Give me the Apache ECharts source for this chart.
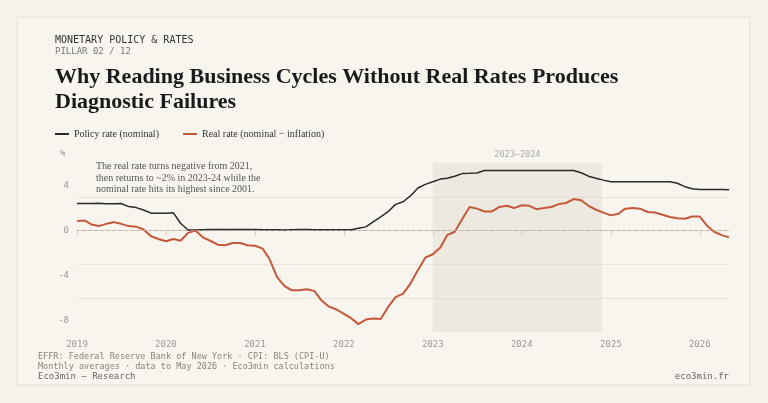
<!DOCTYPE html>
<html><head><meta charset="utf-8">
<script src="https://cdn.jsdelivr.net/npm/echarts@6/dist/echarts.min.js"></script>
<style>html,body{margin:0;background:#f6f3ed}#c{width:768px;height:403px}</style>
</head><body><div id="c"></div>
<script>
// monthly, Jan 2019 .. May 2026
const policyRate = [
  2.40,2.40,2.41,2.42,2.39,2.38,2.40,2.13,2.04,1.83,1.55,1.55,
  1.55,1.58,0.65,0.05,0.05,0.08,0.09,0.10,0.09,0.09,0.09,0.09,
  0.09,0.08,0.07,0.07,0.06,0.08,0.10,0.09,0.08,0.08,0.08,0.08,
  0.08,0.08,0.20,0.33,0.77,1.21,1.68,2.33,2.56,3.08,3.78,4.10,
  4.33,4.57,4.65,4.83,5.06,5.08,5.12,5.33,5.33,5.33,5.33,5.33,
  5.33,5.33,5.33,5.33,5.33,5.33,5.33,5.33,5.13,4.83,4.64,4.48,
  4.33,4.33,4.33,4.33,4.33,4.33,4.33,4.33,4.33,4.20,3.90,3.72,
  3.64,3.64,3.64,3.64,3.63
];
const realRate = [
  0.85,0.90,0.55,0.40,0.60,0.75,0.60,0.40,0.35,0.10,-0.50,-0.75,
  -0.95,-0.75,-0.90,-0.20,0.00,-0.60,-0.90,-1.25,-1.30,-1.10,-1.10,-1.30,
  -1.35,-1.60,-2.50,-4.10,-4.90,-5.30,-5.30,-5.20,-5.35,-6.20,-6.75,-7.00,
  -7.40,-7.80,-8.30,-7.90,-7.80,-7.85,-6.80,-5.90,-5.60,-4.70,-3.50,-2.40,
  -2.10,-1.50,-0.40,-0.10,1.00,2.10,1.95,1.70,1.70,2.10,2.20,2.00,
  2.25,2.20,1.90,2.00,2.10,2.35,2.45,2.80,2.70,2.20,1.85,1.60,
  1.35,1.50,1.95,2.00,1.95,1.65,1.60,1.40,1.20,1.10,1.05,1.25,
  1.25,0.40,-0.10,-0.40,-0.60
];
const months = policyRate.map((_, i) => {
  const y = 2019 + Math.floor(i / 12), m = i % 12 + 1;
  return y + '-' + String(m).padStart(2, '0') + '-01';
});
const yTicks = [-8, -4, 0, 4];
const mono = '"DejaVu Sans Mono", monospace';
const serif = '"Liberation Serif", serif';

const chart = echarts.init(document.getElementById('c'), null, {renderer: 'canvas'});
chart.setOption({
  backgroundColor: '#f6f3ed',
  animation: false,
  graphic: [
    {type: 'rect', shape: {x: 17, y: 17, width: 733, height: 368},
     style: {fill: '#f8f5ef', stroke: '#e6e1d6', lineWidth: 1}},
    {type: 'text', left: 55, top: 35, style: {text: 'MONETARY POLICY & RATES', font: '10px ' + mono, fill: '#333', letterSpacing: 1.5}},
    {type: 'text', left: 55, top: 47, style: {text: 'PILLAR 02 / 12', font: '9px ' + mono, fill: '#777', letterSpacing: 1}},
    {type: 'text', left: 55, top: 65, style: {text: 'Why Reading Business Cycles Without Real Rates Produces\nDiagnostic Failures', font: 'bold 22px ' + serif, fill: '#1a1a1a', lineHeight: 25}},
    {type: 'text', left: 96, top: 161, style: {text: 'The real rate turns negative from 2021,\nthen returns to ~2% in 2023-24 while the\nnominal rate hits its highest since 2001.', font: '10px ' + serif, fill: '#555', lineHeight: 11.5}},
    {type: 'text', left: 60, top: 149, style: {text: '%', font: '9px ' + mono, fill: '#999'}},
    {type: 'text', left: 38, top: 352, style: {text: 'EFFR: Federal Reserve Bank of New York · CPI: BLS (CPI-U)\nMonthly averages · data to May 2026 · Eco3min calculations', font: '8.5px ' + mono, fill: '#8a8478', lineHeight: 10}},
    {type: 'text', left: 38, top: 372, style: {text: 'Eco3min — Research', font: '9px ' + mono, fill: '#666'}},
    {type: 'text', right: 39, top: 372, style: {text: 'eco3min.fr', font: '9px ' + mono, fill: '#666', align: 'right'}}
  ],
  legend: {
    left: 50, top: 124, itemWidth: 14, itemHeight: 2, itemGap: 24,
    icon: 'rect',
    textStyle: {fontFamily: serif, fontSize: 10, color: '#333'},
    data: ['Policy rate (nominal)', 'Real rate (nominal − inflation)']
  },
  grid: {left: 77, right: 39, top: 163, bottom: 71},
  xAxis: {
    type: 'time', min: months[0], max: months[months.length - 1],
    axisLine: {lineStyle: {color: '#d8cfc0'}},
    axisTick: {show: true, lineStyle: {color: '#d8cfc0'}},
    splitLine: {show: false},
    axisLabel: {fontFamily: mono, fontSize: 9, color: '#999', formatter: '{yyyy}'},
    minInterval: 3600 * 24 * 1000 * 365
  },
  yAxis: {
    type: 'value', min: -9, max: 6,
    axisLine: {show: false}, axisTick: {show: false},
    axisLabel: {fontFamily: mono, fontSize: 9, color: '#999', margin: 8,
      customValues: yTicks},
    splitLine: {show: true, lineStyle: {color: '#ece6da'}, showMinLine: false, showMaxLine: false}
  },
  series: [
    {
      name: 'Policy rate (nominal)', type: 'line', showSymbol: false,
      data: months.map((d, i) => [d, policyRate[i]]),
      lineStyle: {color: '#2a2a2a', width: 1.5}, itemStyle: {color: '#2a2a2a'},
      markArea: {
        silent: true,
        itemStyle: {color: 'rgba(200,192,176,0.22)'},
        label: {show: true, position: 'top', fontFamily: mono, fontSize: 8.5, color: '#aaa', distance: 4},
        data: [[{name: '2023–2024', xAxis: '2023-01-01'}, {xAxis: '2024-11-25'}]]
      },
      markLine: {
        silent: true, symbol: 'none', label: {show: false},
        lineStyle: {color: '#b5ad9f', type: [2, 4], width: 1},
        data: [{yAxis: 0}]
      }
    },
    {
      name: 'Real rate (nominal − inflation)', type: 'line', showSymbol: false,
      data: months.map((d, i) => [d, realRate[i]]),
      lineStyle: {color: '#c4583a', width: 2}, itemStyle: {color: '#c4583a'}
    }
  ]
});
</script></body></html>
